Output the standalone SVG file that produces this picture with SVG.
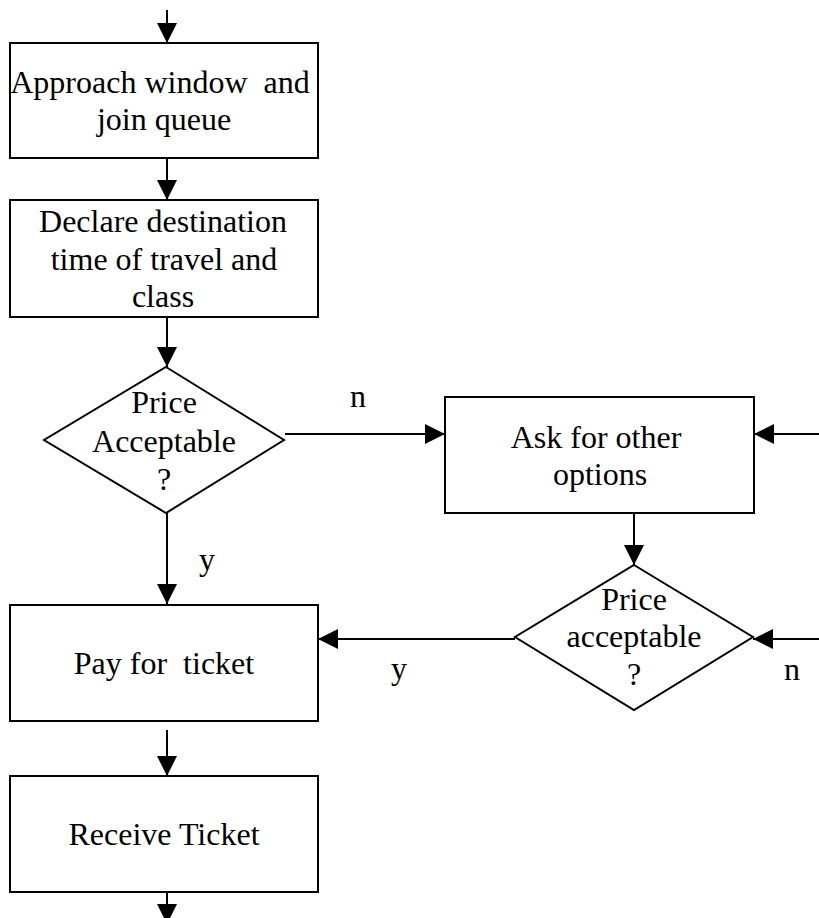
<svg xmlns="http://www.w3.org/2000/svg" width="819" height="918" viewBox="0 0 819 918">
<style>
.box{fill:#fff;stroke:#000;stroke-width:2}
.t{font-family:"Liberation Serif","Times New Roman",serif;font-size:32px;fill:#000;text-anchor:middle}
.c{stroke:#000;stroke-width:2;fill:none}
</style>
<defs>
<marker id="ah" markerUnits="userSpaceOnUse" markerWidth="20" markerHeight="20" viewBox="0 0 20 20" refX="20" refY="10" orient="auto">
<path d="M0,0 L20,10 L0,20 Z" fill="#000"/>
</marker>
</defs>
<rect width="819" height="918" fill="#fff"/>
<g id="connectors">
<line class="c" x1="167" y1="10" x2="167" y2="43" marker-end="url(#ah)"/>
<line class="c" x1="167" y1="158" x2="167" y2="200" marker-end="url(#ah)"/>
<line class="c" x1="167" y1="317" x2="167" y2="367" marker-end="url(#ah)"/>
<line class="c" x1="167" y1="513" x2="167" y2="604" marker-end="url(#ah)"/>
<line class="c" x1="285" y1="434" x2="445" y2="434" marker-end="url(#ah)"/>
<line class="c" x1="819" y1="434" x2="754" y2="434" marker-end="url(#ah)"/>
<line class="c" x1="634" y1="513" x2="634" y2="565" marker-end="url(#ah)"/>
<line class="c" x1="515" y1="639" x2="318" y2="639" marker-end="url(#ah)"/>
<line class="c" x1="819" y1="639" x2="753" y2="639" marker-end="url(#ah)"/>
<line class="c" x1="167" y1="730" x2="167" y2="776" marker-end="url(#ah)"/>
<line class="c" x1="167" y1="892" x2="167" y2="924" marker-end="url(#ah)"/>
<text class="t" x="358" y="407">n</text>
<text class="t" x="207" y="570">y</text>
<text class="t" x="399" y="679">y</text>
<text class="t" x="792" y="680">n</text>
</g>
<g id="approach">
<rect class="box" x="10" y="43" width="308" height="115"/>
<text class="t" x="160" y="93" xml:space="preserve">Approach window  and</text>
<text class="t" x="164" y="130">join queue</text>
</g>
<g id="declare">
<rect class="box" x="10" y="200" width="308" height="117"/>
<text class="t" x="163" y="232">Declare destination</text>
<text class="t" x="164" y="270">time of travel and</text>
<text class="t" x="163" y="307">class</text>
</g>
<g id="decision1">
<polygon class="box" points="166,367 284,440 166,513 44,440"/>
<text class="t" x="164" y="413">Price</text>
<text class="t" x="164" y="452">Acceptable</text>
<text class="t" x="164" y="490">?</text>
</g>
<g id="ask">
<rect class="box" x="445" y="397" width="309" height="116"/>
<text class="t" x="596" y="448">Ask for other</text>
<text class="t" x="600" y="485">options</text>
</g>
<g id="decision2">
<polygon class="box" points="634,565 753,637 634,710 515,637"/>
<text class="t" x="634" y="610">Price</text>
<text class="t" x="634" y="647">acceptable</text>
<text class="t" x="634" y="685">?</text>
</g>
<g id="pay">
<rect class="box" x="10" y="605" width="308" height="116"/>
<text class="t" x="164" y="674" xml:space="preserve">Pay for  ticket</text>
</g>
<g id="receive">
<rect class="box" x="10" y="776" width="308" height="116"/>
<text class="t" x="164" y="845">Receive Ticket</text>
</g>
</svg>
